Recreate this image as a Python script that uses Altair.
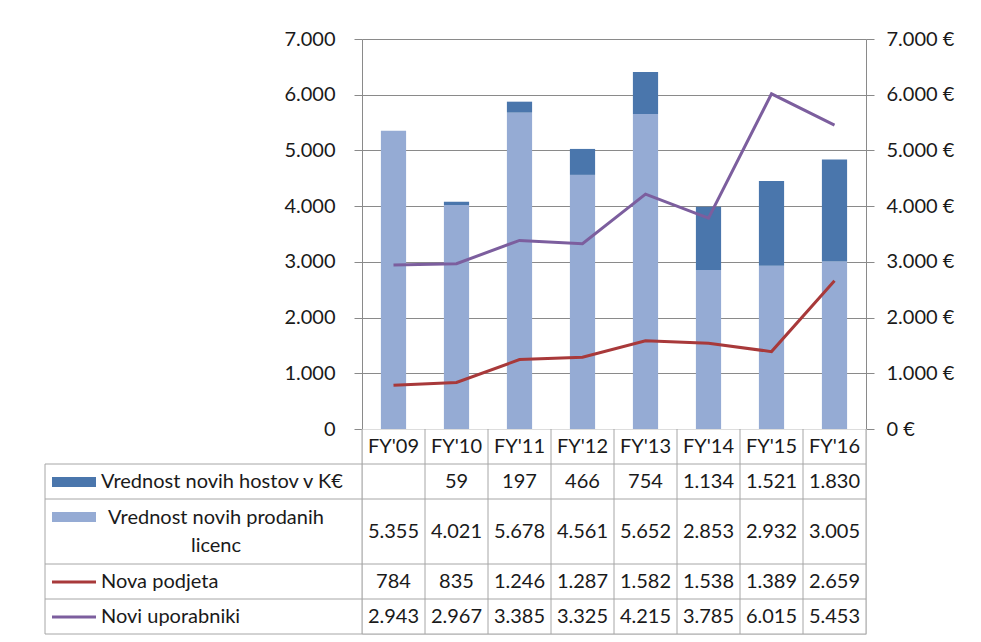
import altair as alt
import pandas as pd

# ---------------- data ----------------
categories = ["FY'09", "FY'10", "FY'11", "FY'12", "FY'13", "FY'14", "FY'15", "FY'16"]
hostov = [None, 59, 197, 466, 754, 1134, 1521, 1830]
licenc = [5355, 4021, 5678, 4561, 5652, 2853, 2932, 3005]
podjeta = [784, 835, 1246, 1287, 1582, 1538, 1389, 2659]
uporabniki = [2943, 2967, 3385, 3325, 4215, 3785, 6015, 5453]

s_host = "Vrednost novih hostov v K€"
s_lic = "Vrednost novih prodanih licenc"
s_pod = "Nova podjeta"
s_upo = "Novi uporabniki"
series_names = [s_host, s_lic, s_pod, s_upo]
series_values = [hostov, licenc, podjeta, uporabniki]
series_kind = ["bar", "bar", "line", "line"]
series_colors = ["#4A76AC", "#95ABD4", "#A8393A", "#7C5E9E"]
label_lines = [["Vrednost novih hostov v K€"],
               ["Vrednost novih prodanih", "licenc"],
               ["Nova podjeta"],
               ["Novi uporabniki"]]
y_ticks = [0, 1000, 2000, 3000, 4000, 5000, 6000, 7000]

# ---------------- style / layout ----------------
FONT = "Lato"
FS = 20
TXT = "#1a1a1a"
GRID = "#8a8a8a"
TABLE_LINE = "#a6a6a6"
W, H = 504, 390
N = len(categories)
COL = W / N                      # pixel width of one category column
LABEL_W = 317                    # pixel width of the legend/label column
SW_X0, SW_X1, TXT_X = 7, 51, 56  # offsets inside label column (px)
ROW2_CX = 171

def fmt(v):
    return "" if v is None else f"{v:,}".replace(",", ".")

num_expr = "replace(format(datum.value, ','), ',', '.')"
color_scale = alt.Scale(domain=series_names, range=series_colors)
x_enc = alt.X("cat:N", sort=categories,
              scale=alt.Scale(paddingInner=0.6, paddingOuter=0.3), axis=None)

axis_style = dict(labelFont=FONT, labelFontSize=FS, labelColor=TXT,
                  domainColor=GRID, gridColor=GRID, tickColor=GRID, tickSize=8,
                  domainWidth=1, gridWidth=1, tickWidth=1, title=None,
                  values=y_ticks)

# ---------------- top chart ----------------
bar_rows = []
for order, (name, vals) in enumerate([(s_lic, licenc), (s_host, hostov)]):
    for c, v in zip(categories, vals):
        if v is not None:
            bar_rows.append({"cat": c, "series": name, "value": v, "order": order})
bars_df = pd.DataFrame(bar_rows)

line_rows = []
for name, vals in [(s_pod, podjeta), (s_upo, uporabniki)]:
    for c, v in zip(categories, vals):
        line_rows.append({"cat": c, "series": name, "value": v})
lines_df = pd.DataFrame(line_rows)

yscale = alt.Scale(domain=[0, 7000], nice=False)

bars = alt.Chart(bars_df).mark_bar().encode(
    x=x_enc,
    y=alt.Y("value:Q", stack="zero", scale=yscale,
            axis=alt.Axis(orient="left", labelExpr=num_expr, grid=True,
                          labelPadding=19, **axis_style)),
    color=alt.Color("series:N", scale=color_scale, legend=None),
    order=alt.Order("order:Q"),
)

lines = alt.Chart(lines_df).mark_line(strokeWidth=3).encode(
    x=x_enc,
    y=alt.Y("value:Q", scale=yscale,
            axis=alt.Axis(orient="right", labelExpr=num_expr + " + ' €'",
                          grid=False, labelPadding=12, **axis_style)),
    color=alt.Color("series:N", scale=color_scale, legend=None),
)

top = alt.layer(bars, lines).resolve_scale(y="independent").properties(width=W, height=H)

# ---------------- data table ----------------
row_lines = [1] + [len(l) for l in label_lines]
row_h = [35 + 30 * (n - 1) for n in row_lines]
row_top = [sum(row_h[:i]) for i in range(len(row_h))]
TH = sum(row_h)
row_mid = [t + h / 2 for t, h in zip(row_top, row_h)]
LBL = -LABEL_W / COL

cells = []
for j, c in enumerate(categories):
    cells.append({"x": j + 0.5, "y": row_mid[0], "text": c})
for r, vals in enumerate(series_values):
    for j, v in enumerate(vals):
        cells.append({"x": j + 0.5, "y": row_mid[r + 1], "text": fmt(v)})
cells_df = pd.DataFrame(cells)

lab_left, lab_center = [], []
for r, lines_ in enumerate(label_lines):
    if len(lines_) == 1:
        lab_left.append({"x": LBL + TXT_X / COL, "y": row_mid[r + 1], "text": lines_[0]})
    else:
        k = len(lines_)
        for i, t in enumerate(lines_):
            lab_center.append({"x": LBL + ROW2_CX / COL,
                               "y": row_mid[r + 1] + (i - (k - 1) / 2) * 28,
                               "text": t})
lab_left_df = pd.DataFrame(lab_left)
lab_center_df = pd.DataFrame(lab_center)

sw_rect, sw_line = [], []
for r, (name, kind) in enumerate(zip(series_names, series_kind)):
    yc = row_top[r + 1] + 18
    d = {"series": name, "x": LBL + SW_X0 / COL, "x2": LBL + SW_X1 / COL}
    if kind == "bar":
        d.update({"y": yc - 5, "y2": yc + 5})
        sw_rect.append(d)
    else:
        d.update({"y": yc, "y2": yc})
        sw_line.append(d)
sw_rect_df = pd.DataFrame(sw_rect)
sw_line_df = pd.DataFrame(sw_line)

rules = []
for b in row_top[1:] + [TH]:
    rules.append({"x": LBL, "x2": N, "y": b, "y2": b})
for j in range(N + 1):
    rules.append({"x": j, "x2": j, "y": 0, "y2": TH})
rules.append({"x": LBL, "x2": LBL, "y": row_top[1], "y2": TH})
rules_df = pd.DataFrame(rules)

tx = alt.Scale(domain=[0, N], nice=False, zero=False)
ty = alt.Scale(domain=[0, TH], reverse=True, nice=False, zero=False)

grid_rules = alt.Chart(rules_df).mark_rule(color=TABLE_LINE, strokeWidth=1).encode(
    x=alt.X("x:Q", scale=tx, axis=None), x2="x2:Q",
    y=alt.Y("y:Q", scale=ty, axis=None), y2="y2:Q")

cell_text = alt.Chart(cells_df).mark_text(font=FONT, fontSize=FS, color=TXT,
                                          align="center", baseline="middle").encode(
    x=alt.X("x:Q", scale=tx, axis=None), y=alt.Y("y:Q", scale=ty, axis=None), text="text:N")

lab_l = alt.Chart(lab_left_df).mark_text(font=FONT, fontSize=FS, color=TXT,
                                         align="left", baseline="middle").encode(
    x=alt.X("x:Q", scale=tx, axis=None), y=alt.Y("y:Q", scale=ty, axis=None), text="text:N")

lab_c = alt.Chart(lab_center_df).mark_text(font=FONT, fontSize=FS, color=TXT,
                                           align="center", baseline="middle").encode(
    x=alt.X("x:Q", scale=tx, axis=None), y=alt.Y("y:Q", scale=ty, axis=None), text="text:N")

sw_r = alt.Chart(sw_rect_df).mark_rect().encode(
    x=alt.X("x:Q", scale=tx, axis=None), x2="x2:Q",
    y=alt.Y("y:Q", scale=ty, axis=None), y2="y2:Q",
    color=alt.Color("series:N", scale=color_scale, legend=None))

sw_l = alt.Chart(sw_line_df).mark_rule(strokeWidth=3).encode(
    x=alt.X("x:Q", scale=tx, axis=None), x2="x2:Q",
    y=alt.Y("y:Q", scale=ty, axis=None), y2="y2:Q",
    color=alt.Color("series:N", scale=color_scale, legend=None))

table = alt.layer(grid_rules, sw_r, sw_l, cell_text, lab_l, lab_c).properties(width=W, height=TH)

chart = alt.vconcat(top, table, spacing=0, bounds="flush").properties(
    padding={"left": 36, "top": 20, "right": 5, "bottom": 2}
).configure_view(stroke=None).configure(background="white")

chart.save("out.html", embed_options={"renderer": "svg", "actions": False})
